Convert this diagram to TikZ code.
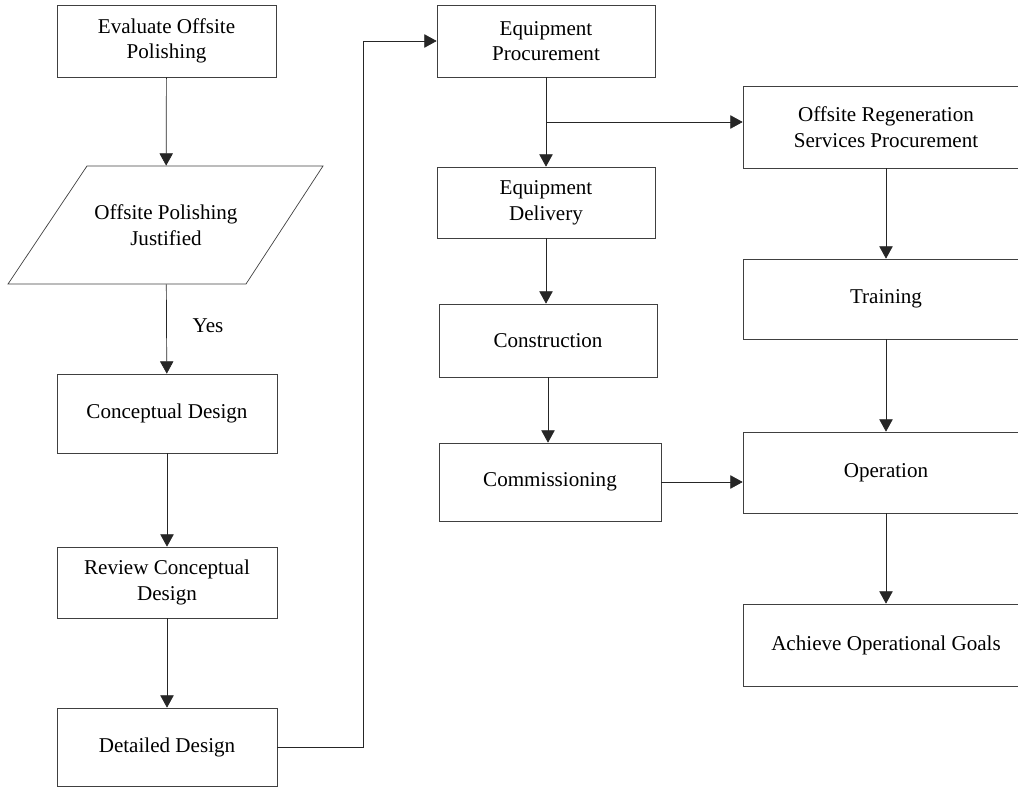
\documentclass[tikz,border=0pt]{standalone}
\usepackage{fontspec}
\setmainfont{Liberation Serif}
\usetikzlibrary{arrows.meta,calc}
\tikzset{
	caja/.style={draw=black!75, align=center, inner sep=0pt, font=\fontsize{12}{14.6}\selectfont},
	flecha/.style={draw=black!85, -{Triangle[width=7.6pt,length=7pt]}},
	linea/.style={draw=black!80}
}
\begin{document}
\begin{tikzpicture}[x=0.02cm, y=-0.02cm]
		\useasboundingbox (0,0) rectangle (1018,788);
		% Diseño
			\node[caja, minimum width=4.38cm, minimum height=1.44cm] (eval) at (166.5,41) {Evaluate Offsite\\Polishing};
			\draw[black!75] (87,166) -- (323,166) -- (246,284) -- (8,284) -- cycle;
			\node[caja, draw=none, minimum width=4.72cm, minimum height=2.36cm] (just) at (166,225) {Offsite Polishing\\Justified};
			\node[caja, minimum width=4.40cm, minimum height=1.58cm] (conc) at (167,413.5) {Conceptual Design};
			\node[caja, minimum width=4.40cm, minimum height=1.42cm] (rev) at (167,582.5) {Review Conceptual\\Design};
			\node[caja, minimum width=4.40cm, minimum height=1.56cm] (det) at (167,747) {Detailed Design};
			\node[font=\fontsize{12}{14.6}\selectfont] (yes) at (208,326) {Yes};
		% Adquisición y construcción
			\node[caja, minimum width=4.36cm, minimum height=1.44cm] (eproc) at (546,41) {Equipment\\Procurement};
			\node[caja, minimum width=4.36cm, minimum height=1.42cm] (edel) at (546,202.5) {Equipment\\Delivery};
			\node[caja, minimum width=4.36cm, minimum height=1.46cm] (cons) at (548,340.5) {Construction};
			\node[caja, minimum width=4.44cm, minimum height=1.56cm] (comm) at (550,482) {Commissioning};
		% Operación
			\node[caja, minimum width=5.72cm, minimum height=1.64cm] (regen) at (886,127) {Offsite Regeneration\\Services Procurement};
			\node[caja, minimum width=5.72cm, minimum height=1.60cm] (train) at (886,299) {Training};
			\node[caja, minimum width=5.72cm, minimum height=1.62cm] (oper) at (886,472.5) {Operation};
			\node[caja, minimum width=5.72cm, minimum height=1.64cm] (goals) at (886,645) {Achieve Operational Goals};
		% Flechas
			\draw[flecha] (eval) -- (just);
			\draw[flecha] (just) -- (conc);
			\draw[flecha] (conc) -- (rev);
			\draw[flecha] (rev) -- (det);
			\draw[flecha] (det.east) -- ++(86,0) |- (eproc.west);
			\draw[flecha] (eproc) -- (edel);
			\coordinate (split) at ($(eproc.south)!0.5!(edel.north)$);
			\draw[flecha] (split) -- (split -| regen.west);
			\draw[flecha] (edel.south) -- (edel.south |- cons.north);
			\draw[flecha] (cons.south) -- (cons.south |- comm.north);
			\draw[flecha] (comm.east) -- (comm.east -| oper.west);
			\draw[flecha] (regen) -- (train);
			\draw[flecha] (train) -- (oper);
			\draw[flecha] (oper) -- (goals);
	\end{tikzpicture}
\end{document}
